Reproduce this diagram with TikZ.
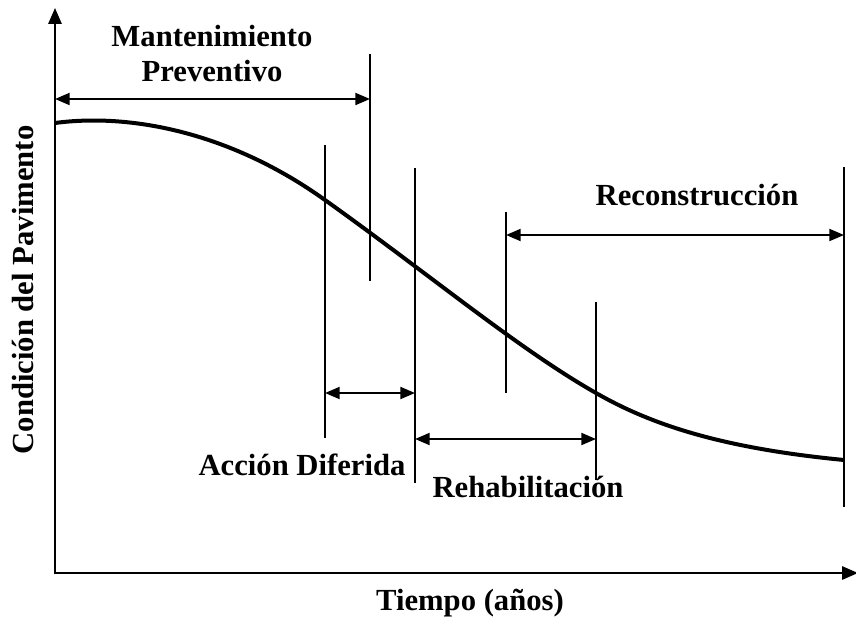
\documentclass[tikz,border=0pt]{standalone}
\usepackage{fontspec}
\setmainfont{Liberation Serif}
\usetikzlibrary{arrows.meta}

\begin{document}
\begin{tikzpicture}[x=0.75pt,y=-0.75pt]
\tikzstyle{label}=[font=\fontsize{23}{27}\selectfont\bfseries, inner sep=0pt, align=center]
\tikzstyle{tick}=[line width=1.1pt]
\tikzstyle{span}=[line width=1.4pt, {Triangle[length=11pt,width=9pt]}-{Triangle[length=11pt,width=9pt]}]
\tikzstyle{axis}=[line width=1.5pt, {Triangle[length=12pt,width=10pt]}-{Triangle[length=12pt,width=10pt]}]

\useasboundingbox (0,0) rectangle (856,617);

% Axes
\coordinate (ytop) at (55,8);
\coordinate (origin) at (55,573);
\coordinate (xend) at (858,573);
\draw [axis] (ytop) -- (origin) -- (xend);

% Condition curve
\coordinate (c0) at (55,123);
\coordinate (c1) at (325,200);
\coordinate (c2) at (596,393);
\coordinate (c3) at (844,460);
\draw [line width=3pt] (c0) .. controls (130,113) and (230,132) .. (c1)
  .. controls (430,275) and (520,350) .. (c2)
  .. controls (650,424) and (720,448) .. (c3);

% Vertical limits
\foreach \n/\x/\a/\b in {mp/370/54/281, ad/325/145/438, rh/415/168/483,
                          rc/506/212/393, rb/596/302/480, re/844/167/507}
{
\coordinate (\n_top) at (\x,\a);
\coordinate (\n_bot) at (\x,\b);
\draw [tick] (\n_top) -- (\n_bot);
}

% Spans
\coordinate (mp_l) at (55,99);   \coordinate (mp_r) at (370,99);
\coordinate (rc_l) at (506,235); \coordinate (rc_r) at (844,235);
\coordinate (ad_l) at (325,393); \coordinate (ad_r) at (415,393);
\coordinate (rh_l) at (415,439); \coordinate (rh_r) at (596,439);
\draw [span] (mp_l) -- (mp_r);
\draw [span] (rc_l) -- (rc_r);
\draw [span] (ad_l) -- (ad_r);
\draw [span] (rh_l) -- (rh_r);

% Text
\node [label, anchor=base] (mant) at (212,47) {Mantenimiento};
\node [label, anchor=base] (prev) at (212,82) {Preventivo};
\node [label, anchor=base] (recon) at (697,205) {Reconstrucción};
\node [label, anchor=base] (accion) at (302,475) {Acción Diferida};
\node [label, anchor=base] (rehab) at (528,497) {Rehabilitación};
\node [label, anchor=base] (tiempo) at (470,610) {Tiempo (años)};
\node [label, anchor=base, rotate=90] (cond) at (33,290) {Condición del Pavimento};
\end{tikzpicture}
\end{document}
